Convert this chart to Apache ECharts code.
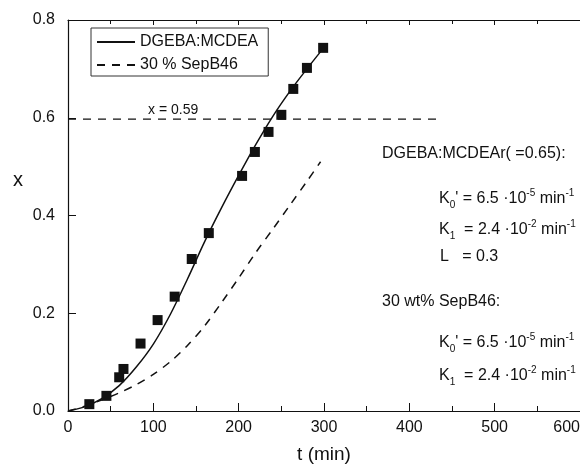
<!DOCTYPE html>
<html>
<head>
<meta charset="utf-8">
<script src="https://cdn.jsdelivr.net/npm/echarts@6/dist/echarts.min.js"></script>
<style>
  html, body { margin: 0; padding: 0; background: #fff; }
  #chart { width: 580px; height: 465px; }
</style>
</head>
<body>
<div id="chart"></div>
<script>
// data
var tModel = [0, 20, 40, 60, 80, 100, 120, 140, 160, 180, 200, 220, 240, 260, 280, 300];
var xNeat = [0, 0.009, 0.026, 0.052, 0.090, 0.137, 0.198, 0.270, 0.346, 0.416, 0.482, 0.545, 0.603, 0.654, 0.700, 0.744];
var tSep = [0, 20, 40, 60, 80, 100, 120, 140, 160, 180, 200, 220, 240, 260, 280, 296];
var xSep = [0, 0.010, 0.023, 0.037, 0.054, 0.075, 0.101, 0.134, 0.174, 0.222, 0.272, 0.324, 0.372, 0.421, 0.470, 0.510];
var tExp = [25, 45, 60, 65, 85, 105, 125, 145, 165, 204, 219, 235, 250, 264, 280, 299];
var xExp = [0.014, 0.031, 0.069, 0.086, 0.138, 0.186, 0.234, 0.311, 0.364, 0.481, 0.530, 0.571, 0.606, 0.659, 0.702, 0.743];
var tRef = [0, 432];
var xRef = [0.597, 0.597];
var xTicks = [0, 100, 200, 300, 400, 500, 600];
var yTicks = [0, 0.2, 0.4, 0.6, 0.8];

var FONT = '"Liberation Sans", Arial, sans-serif';

function pairs(a, b) {
  var out = [];
  for (var i = 0; i < a.length; i++) out.push([a[i], b[i]]);
  return out;
}

var rich = {
  sup: { fontSize: 10, fontFamily: FONT, fill: '#111', verticalAlign: 'top', lineHeight: 12 },
  sub: { fontSize: 10, fontFamily: FONT, fill: '#111', verticalAlign: 'bottom', lineHeight: 12 }
};

function note(x, y, text, size) {
  return {
    type: 'text', x: x, y: y, z: 10,
    style: {
      text: text, fill: '#111', fontSize: size || 16, fontFamily: FONT,
      lineHeight: 22, align: 'left', verticalAlign: 'middle', rich: rich
    }
  };
}

var chart = echarts.init(document.getElementById('chart'));
chart.setOption({
  backgroundColor: '#fff',
  animation: false,
  textStyle: { fontFamily: FONT, color: '#111' },
  grid: { left: 68, right: 0, top: 20, bottom: 54, outerBoundsMode: 'none', containLabel: false },
  legend: {
    data: ['DGEBA:MCDEA', '30 % SepB46'],
    orient: 'vertical',
    left: 91, top: 28,
    padding: [6, 10, 3, 5],
    itemGap: 7,
    itemWidth: 38, itemHeight: 16,
    borderColor: '#333', borderWidth: 1,
    itemStyle: { opacity: 0 },
    textStyle: { fontSize: 16, color: '#111', fontFamily: FONT }
  },
  xAxis: [{
    type: 'value', min: xTicks[0], max: xTicks[xTicks.length - 1], interval: 100,
    name: 't (min)', nameLocation: 'middle', nameGap: 34,
    nameTextStyle: { fontSize: 19, color: '#111', fontFamily: FONT },
    axisLine: { show: true, lineStyle: { color: '#111', width: 1.2 } },
    axisTick: { show: true, inside: true, length: 8, lineStyle: { color: '#111' } },
    minorTick: { show: true, splitNumber: 2, length: 5, lineStyle: { color: '#111' } },
    axisLabel: { fontSize: 16, color: '#111', margin: 9, alignMaxLabel: 'right' },
    splitLine: { show: false }
  }, {
    type: 'value', position: 'top', min: 0, max: 600, interval: 100,
    axisLine: { show: true, lineStyle: { color: '#111', width: 1.2 } },
    axisTick: { show: true, inside: true, length: 5, lineStyle: { color: '#111' } },
    minorTick: { show: true, splitNumber: 2, length: 4, lineStyle: { color: '#111' } },
    axisLabel: { show: false },
    splitLine: { show: false }
  }],
  yAxis: {
    type: 'value', min: yTicks[0], max: yTicks[yTicks.length - 1], interval: 0.2,
    axisLine: { show: true, lineStyle: { color: '#111', width: 1.2 } },
    axisTick: { show: true, inside: true, length: 8, lineStyle: { color: '#111' } },
    axisLabel: {
      fontSize: 16, color: '#111', margin: 13,
      formatter: function (v) { return v.toFixed(1); }
    },
    splitLine: { show: false }
  },
  graphic: [
    note(13, 180, 'x', 20),
    note(148, 110, 'x = 0.59', 14),
    note(382, 154, 'DGEBA:MCDEAr( =0.65):'),
    note(439, 199, 'K{sub|0}\' = 6.5 ·10{sup|-5} min{sup|-1}'),
    note(439, 230, 'K{sub|1}  = 2.4 ·10{sup|-2} min{sup|-1}'),
    note(440, 257, 'L   = 0.3'),
    note(382, 302, '30 wt% SepB46:'),
    note(439, 343, 'K{sub|0}\' = 6.5 ·10{sup|-5} min{sup|-1}'),
    note(439, 376, 'K{sub|1}  = 2.4 ·10{sup|-2} min{sup|-1}')
  ],
  series: [{
    name: 'DGEBA:MCDEA', type: 'line', smooth: 0.3, symbol: 'none',
    data: pairs(tModel, xNeat),
    lineStyle: { color: '#111', width: 1.5, type: 'solid' },
    itemStyle: { color: '#111' }
  }, {
    name: '30 % SepB46', type: 'line', smooth: 0.3, symbol: 'none',
    data: pairs(tSep, xSep),
    lineStyle: { color: '#111', width: 1.5, type: [8, 7] },
    itemStyle: { color: '#111' }
  }, {
    name: 'x = 0.59', type: 'line', symbol: 'none',
    data: pairs(tRef, xRef),
    lineStyle: { color: '#111', width: 1.2, type: [8, 7] }
  }, {
    name: 'exp', type: 'scatter', symbol: 'rect', symbolSize: 10,
    data: pairs(tExp, xExp),
    itemStyle: { color: '#111', opacity: 1 }, z: 5
  }]
});
</script>
</body>
</html>
